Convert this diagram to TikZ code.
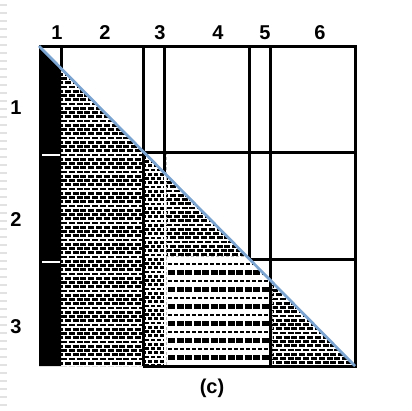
\documentclass[tikz,border=0pt]{standalone}
\usepackage{fontspec}
\setmainfont{Liberation Sans}
\usepackage{tikz}
\definecolor{diagblue}{RGB}{125,165,210}
\definecolor{tickgray}{RGB}{226,226,226}

\begin{document}
\begin{tikzpicture}[x=1pt, y=-1pt,
    gridline/.style={line width=3pt},
    diagline/.style={diagblue, line width=2.8pt},
    seam/.style={gray!50, dash pattern=on 3pt off 2pt, line width=1.5pt},
    dashrow/.style={line width=2.6pt, dash pattern=on 6pt off 1.8pt},
    thinrow/.style={line width=2.6pt, dash pattern=on 4pt off 2pt},
    thickrow/.style={line width=4.8pt, dash pattern=on 7pt off 1.5pt},
    lab/.style={font=\fontsize{20}{22}\selectfont\bfseries, inner sep=0pt},
]
\useasboundingbox (0,0) rectangle (412,410);

% faint ruler ticks on the left edge
\draw[tickgray, line width=7pt, dash pattern=on 1.5pt off 6.5pt] (3.5,4) -- (3.5,410);

% column 1, solid
\fill (39,46) -- (61,68.3) -- (61,366) -- (39,366) -- cycle;
\foreach \y in {155,262}
    \draw[white, line width=1.5pt] (42,\y) -- (60,\y);

% column 2
\begin{scope}
\clip (61,68.3) -- (143,151.3) -- (143,366) -- (61,366) -- cycle;
\foreach \k in {0,...,70} {
    \pgfmathsetmacro\yy{70+4.25*\k}
    \pgfmathsetmacro\ph{mod(\k,2)*4}
    \draw[dashrow, dash phase=\ph pt] (61,\yy) -- (143,\yy);
}
\end{scope}

% column 3
\begin{scope}
\clip (143,151.3) -- (164,172.6) -- (164,366) -- (143,366) -- cycle;
\foreach \k in {0,...,50} {
    \pgfmathsetmacro\yy{153+4.25*\k}
    \pgfmathsetmacro\ph{mod(\k,2)*3}
    \draw[thinrow, dash phase=\ph pt] (145,\yy) -- (164,\yy);
}
\end{scope}

% column 4, row 2
\begin{scope}
\clip (164,172.6) -- (247.3,257) -- (164,257) -- cycle;
\foreach \k in {0,...,20} {
    \pgfmathsetmacro\yy{174+4.25*\k}
    \pgfmathsetmacro\ph{mod(\k,2)*4}
    \draw[dashrow, dash phase=\ph pt] (166,\yy) -- (249,\yy);
}
\end{scope}

% columns 4 and 5, row 3
\begin{scope}
\clip (164,257) -- (247.3,257) -- (270,279.9) -- (270,366) -- (164,366) -- cycle;
\foreach \k in {0,...,6} {
    \pgfmathsetmacro\ya{264+17*\k}
    \pgfmathsetmacro\yb{272.5+17*\k}
    \draw[thinrow] (168,\ya) -- (270,\ya);
    \draw[thickrow] (168,\yb) -- (270,\yb);
}
\end{scope}

% column 6, row 3
\begin{scope}
\clip (270,279.9) -- (355,366) -- (270,366) -- cycle;
\foreach \k in {0,...,21} {
    \pgfmathsetmacro\yy{282+4.25*\k}
    \pgfmathsetmacro\ph{mod(\k,2)*4}
    \draw[dashrow, dash phase=\ph pt] (272,\yy) -- (355,\yy);
}
\end{scope}

% faint seams between the filled parts
\draw[seam] (166.5,152) -- (166.5,366);
\draw[seam] (166,256.5) -- (247,256.5);
\draw[seam] (272.5,281) -- (272.5,366);

% grid
\draw[gridline] (39,46) -- (355,46) -- (355,366) -- (143,366);
\draw[gridline] (61,46) -- (61,68);
\draw[gridline] (143,46) -- (143,366);
\draw[gridline] (164,46) -- (164,172);
\draw[gridline] (249,46) -- (249,259);
\draw[gridline] (270,46) -- (270,366);
\draw[gridline] (143,152) -- (355,152);
\draw[gridline] (249,259) -- (355,259);

% diagonal
\draw[diagline] (39,46) -- (355,366);

% labels
\foreach \c/\x in {1/57, 2/105, 3/160, 4/218, 5/265, 6/320}
    \node[lab] (col\c) at (\x,33) {\c};
\foreach \r/\y in {1/108, 2/220, 3/327}
    \node[lab] (row\r) at (16,\y) {\r};
\node[lab] (caption) at (212,388) {(c)};
\end{tikzpicture}
\end{document}
